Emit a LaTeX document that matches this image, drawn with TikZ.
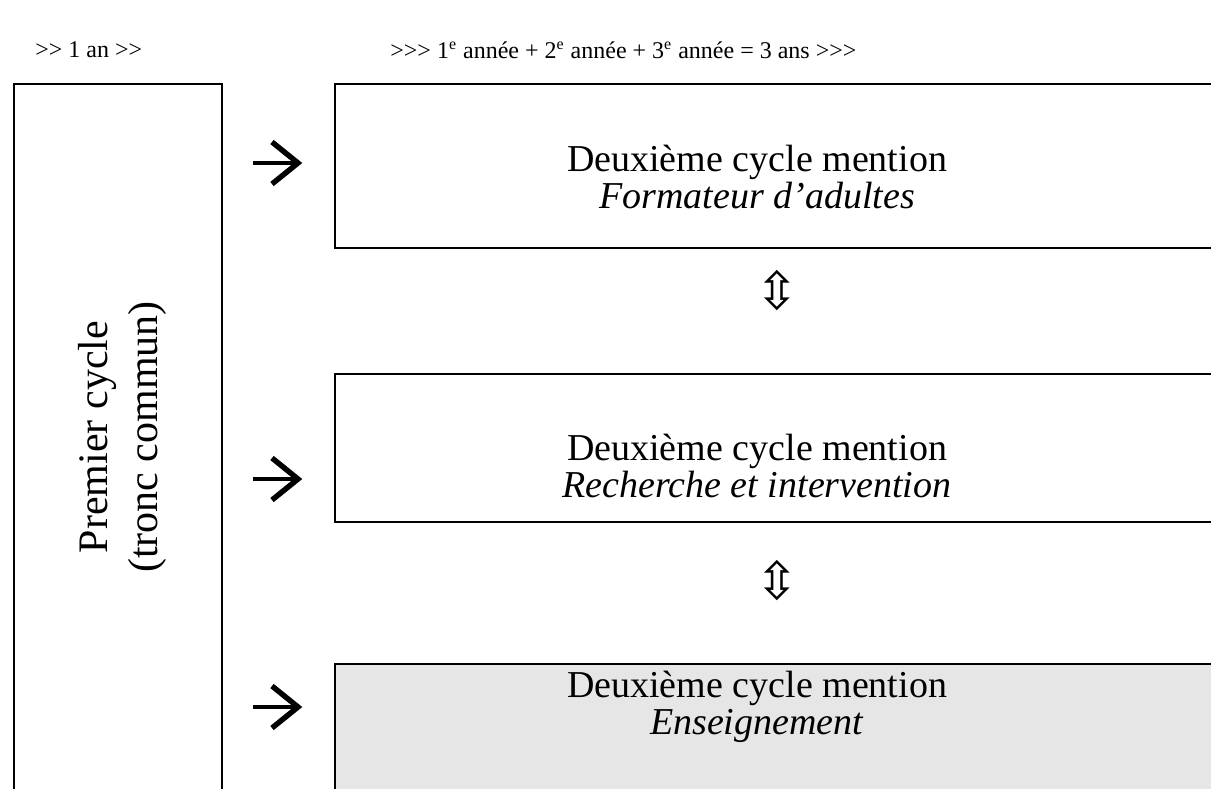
\documentclass[tikz,border=0pt]{standalone}
\usepackage{fontspec}
\setmainfont{Liberation Serif}
\newfontfamily\djv{DejaVu Sans}
\definecolor{boxgray}{HTML}{E6E6E6}
\begin{document}
\begin{tikzpicture}[x=0.5pt,y=-0.5pt,
  box/.style={draw=black, line width=0.75pt, inner sep=0pt, anchor=north west},
  boxtext/.style={font=\fontsize{19}{18.5}\selectfont, align=center, inner sep=0pt},
  lefttext/.style={font=\fontsize{21}{25}\selectfont, align=center, inner sep=0pt, rotate=90},
  head/.style={font=\fontsize{12}{14}\selectfont, inner sep=0pt, anchor=west},
  shaft/.style={line width=2.4pt},
  barb/.style={line width=2.7pt, miter limit=10},
  dbl/.style={font=\djv\fontsize{26}{26}\selectfont, inner sep=0pt}]
\useasboundingbox (0,0) rectangle (1211,788);
\clip (0,0) rectangle (1211,788);
% header
\node[head] (h1) at (35,50) {>{}> 1 an >{}>};
\node[head] (h2) at (390,50) {>{}>{}> 1\textsuperscript{e} année + 2\textsuperscript{e} année + 3\textsuperscript{e} année = 3 ans >{}>{}>};
% left box
\node[box, fill=white, minimum width=104pt, minimum height=360pt] (left) at (13,83) {};
\node[lefttext] (lt) at (122,437) {Premier cycle\\(tronc commun)};
% right boxes
\node[box, minimum width=448pt, minimum height=82pt] (b1) at (334,83) {};
\node[box, minimum width=448pt, minimum height=74pt] (b2) at (334,373) {};
\node[box, fill=boxgray, minimum width=448pt, minimum height=70pt] (b3) at (334,663) {};
\node[boxtext] (t1) at (757,177) {Deuxième cycle mention\\\textit{Formateur d’adultes}};
\node[boxtext] (t2) at (757,466) {Deuxième cycle mention\\\textit{Recherche et intervention}};
\node[boxtext] (t3) at (757,707) {Deuxième cycle mention\\\textit{Enseignement}};
% double arrows
\node[dbl] (d1) at (777,291) {⇳};
\node[dbl] (d2) at (777,581) {⇳};
% right arrows
\foreach \yy/\nm in {163/a1,479/a2,707/a3}{
  \coordinate (\nm) at (253,\yy);
  \draw[shaft] (\nm) -- ++(44,0);
  \draw[barb] (\nm) ++(19,-21) -- ++(26,21) -- ++(-26,21);
}
\end{tikzpicture}
\end{document}
